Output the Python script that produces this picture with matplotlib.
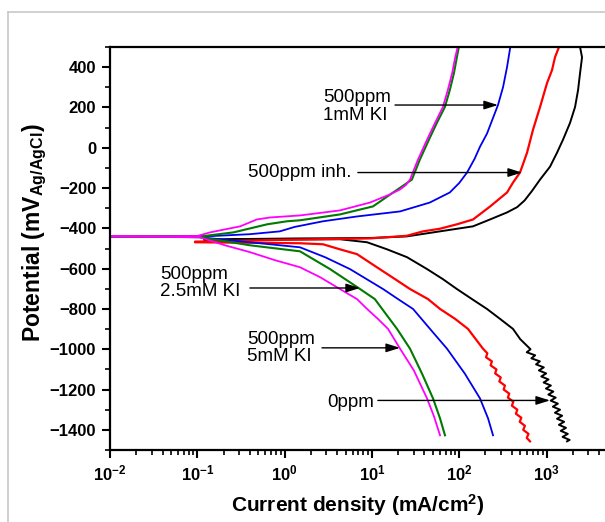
import numpy as np
import matplotlib
matplotlib.use('Agg')
import matplotlib.pyplot as plt
from matplotlib.lines import Line2D
from matplotlib.ticker import LogLocator, MultipleLocator, NullFormatter, FixedLocator

plt.rcParams['font.family'] = ['Liberation Sans', 'DejaVu Sans']
plt.rcParams['mathtext.default'] = 'regular'

# polarization branches, (current density mA/cm2, potential mV)
blank_an = [(0.12, -455), (1.5, -450), (9.5, -448), (25, -440), (60, -415), (144, -390), (225, -356),
            (353, -321), (460, -295), (560, -262), (680, -215), (843, -158), (1097, -94), (1318, -25),
            (1545, 40), (1858, 123), (2123, 202), (2298, 286), (2422, 370), (2553, 449), (2422, 500)]
blank_cat = [(0.12, -458), (4.3, -454), (8.8, -469), (14.9, -504), (25.2, -543), (42.8, -602),
             (65, -652), (94, -701), (140, -751), (208, -800), (293, -849), (413, -899), (500, -950),
             (656, -1000), (594, -1015), (741, -1030), (671, -1045), (839, -1060), (759, -1075),
             (931, -1090), (818, -1105), (991, -1120), (871, -1135), (1054, -1150), (927, -1165),
             (1122, -1180), (986, -1195), (1197, -1210), (1050, -1225), (1274, -1240), (1117, -1255),
             (1349, -1270), (1183, -1285), (1429, -1300), (1250, -1315), (1510, -1330), (1321, -1345),
             (1592, -1360), (1387, -1375), (1671, -1390), (1455, -1405), (1754, -1420), (1528, -1435),
             (1841, -1450), (1718, -1457)]

inh_an = [(0.094, -466), (1.2, -456), (9.5, -450), (25, -437), (38.5, -415), (60, -402), (94, -380),
          (144, -356), (225, -292), (353, -222), (413, -173), (497, -123), (598, -25), (700, 89),
          (843, 202), (1014, 321), (1156, 385), (1251, 449), (1390, 500)]
inh_cat = [(0.094, -469), (1.5, -474), (2.75, -479), (4.3, -504), (6.75, -528), (11.4, -593), (18.4, -652),
           (27.3, -701), (43.9, -751), (60.3, -800), (89.6, -849), (126, -899), (187, -997), (210, -1020),
           (203, -1040), (237, -1060), (229, -1080), (267, -1100), (258, -1120), (299, -1140), (288, -1160),
           (334, -1180), (323, -1200), (374, -1220), (361, -1240), (417, -1260), (401, -1280), (463, -1300),
           (446, -1320), (515, -1340), (493, -1360), (566, -1380), (541, -1400), (622, -1420), (594, -1440),
           (647, -1457)]

ki1_an = [(0.01, -440), (0.15, -438), (0.4, -429), (0.88, -415), (1.3, -393), (2.75, -365), (6.75, -341),
          (21, -316), (46, -272), (78, -222), (100, -175), (123, -123), (150, -55), (173, 5), (208, 70),
          (240, 140), (278, 212), (318, 301), (353, 400), (385, 500)]
ki1_cat = [(0.01, -440), (0.107, -444), (0.4, -469), (1.5, -494), (2.9, -543), (5.6, -602), (13.4, -701),
           (19.9, -751), (29.6, -800), (46.3, -899), (72.4, -997), (116, -1121), (173, -1244), (214, -1343),
           (244, -1427)]

ki25_an = [(0.01, -440), (0.12, -438), (0.26, -420), (0.63, -380), (1.06, -365), (1.5, -360), (4.3, -331),
           (10.3, -291), (17.5, -222), (22.5, -190), (28.7, -158), (35.4, -59), (45, 40), (55.4, 123),
           (68.5, 202), (78, 286), (87, 370), (94, 449), (99, 500)]
ki25_cat = [(0.01, -440), (0.107, -444), (0.4, -484), (1.5, -514), (3.31, -602), (6.75, -691), (10.8, -751),
            (13.1, -800), (19.4, -899), (27.3, -997), (37.5, -1121), (50.1, -1244), (60.3, -1343),
            (68.7, -1427)]

ki5_an = [(0.01, -440), (0.1, -438), (0.14, -420), (0.31, -390), (0.48, -356), (0.68, -346), (1.5, -336),
          (4.3, -311), (9.5, -272), (16, -232), (21, -207), (24.5, -185), (27.3, -158), (33.7, -59),
          (42.8, 40), (52.8, 123), (65, 202), (74, 286), (83, 370), (90, 449), (96, 500)]
ki5_cat = [(0.01, -440), (0.107, -444), (0.207, -484), (0.4, -518), (0.776, -558), (1.5, -593), (2.54, -642),
           (4.3, -701), (6.75, -751), (8.8, -800), (11.7, -849), (15.3, -899), (21, -997), (30.3, -1106),
           (42.8, -1244), (51.4, -1333), (60.3, -1427)]

curves = [(blank_cat, blank_an, 'black', 1.4), (inh_cat, inh_an, '#ff0000', 1.6),
          (ki1_cat, ki1_an, '#0000ee', 1.3), (ki25_cat, ki25_an, '#007a00', 1.5),
          (ki5_cat, ki5_an, '#ff00ff', 1.3)]

xticks = [1e-2, 1e-1, 1e0, 1e1, 1e2, 1e3]
xtick_labels = ['$10^{-2}$', '$10^{-1}$', '$10^{0}$', '$10^{1}$', '$10^{2}$', '$10^{3}$']
yticks = [400, 200, 0, -200, -400, -600, -800, -1000, -1200, -1400]

fig = plt.figure(figsize=(6.05, 5.22), dpi=100)
ax = fig.add_axes([110 / 605, 1 - 450 / 522, 1 - 110 / 605, (450 - 47) / 522])

for cat, an, col, lw in curves:
    pts = cat[::-1] + an
    ax.plot([p[0] for p in pts], [p[1] for p in pts], color=col, lw=lw, solid_joinstyle='round')

ax.set_xscale('log')
ax.set_xlim(1e-2, 10 ** 3.67)
ax.set_ylim(-1500, 500)

ax.xaxis.set_major_locator(FixedLocator(xticks))
ax.set_xticklabels(xtick_labels)
ax.xaxis.set_minor_locator(LogLocator(base=10, subs=np.arange(2, 10)))
ax.xaxis.set_minor_formatter(NullFormatter())
ax.set_yticks(yticks)
ax.yaxis.set_minor_locator(MultipleLocator(100))

ax.tick_params(axis='both', which='major', direction='out', length=6, width=1.5, labelsize=12, pad=4)
ax.tick_params(axis='both', which='minor', direction='out', length=3.5, width=1.2)
ax.tick_params(top=False, right=False, which='both')
for lab in ax.get_xticklabels() + ax.get_yticklabels():
    lab.set_fontweight('bold')

for s in ['left', 'bottom', 'top']:
    ax.spines[s].set_linewidth(1.6)
ax.spines['right'].set_visible(False)

ax.set_ylabel('Potential (mV$_{Ag/AgCl}$)', fontsize=16.5, fontweight='bold')
ax.yaxis.set_label_coords(-0.123, 0.54)
ax.set_xlabel('Current density (mA/cm$^{2}$)', fontsize=15, fontweight='bold', labelpad=6)

arrow = dict(arrowstyle='-|>,head_length=0.7,head_width=0.22', color='black', lw=1,
             shrinkA=0, shrinkB=0, mutation_scale=12)
fs = 13.5
ax.text(2.75, 205, '500ppm\n1mM KI', fontsize=fs, ha='left', va='center', linespacing=1.05)
ax.annotate('', xy=(278, 212), xytext=(18.4, 212), arrowprops=arrow)
ax.text(0.38, -123, '500ppm inh.', fontsize=fs, ha='left', va='center')
ax.annotate('', xy=(524, -123), xytext=(6.9, -123), arrowprops=arrow)
ax.text(0.0374, -672, '500ppm\n2.5mM KI', fontsize=fs, ha='left', va='center', linespacing=1.05)
ax.annotate('', xy=(7.3, -696), xytext=(0.40, -696), arrowprops=arrow)
ax.text(0.37, -993, '500ppm\n5mM KI', fontsize=fs, ha='left', va='center', linespacing=1.05)
ax.annotate('', xy=(21, -993), xytext=(2.68, -993), arrowprops=arrow)
ax.text(3.06, -1265, '0ppm', fontsize=fs, ha='left', va='center')
ax.annotate('', xy=(1097, -1254), xytext=(11.7, -1254), arrowprops=arrow)

# grey frame of the original figure panel
fig.add_artist(Line2D([8 / 605, 8 / 605], [0, 1 - 12 / 522], color='#c8c8c8', lw=1.2))
fig.add_artist(Line2D([8 / 605, 1], [1 - 12 / 522, 1 - 12 / 522], color='#c8c8c8', lw=1.2))

fig.savefig('out.png', dpi=100)
